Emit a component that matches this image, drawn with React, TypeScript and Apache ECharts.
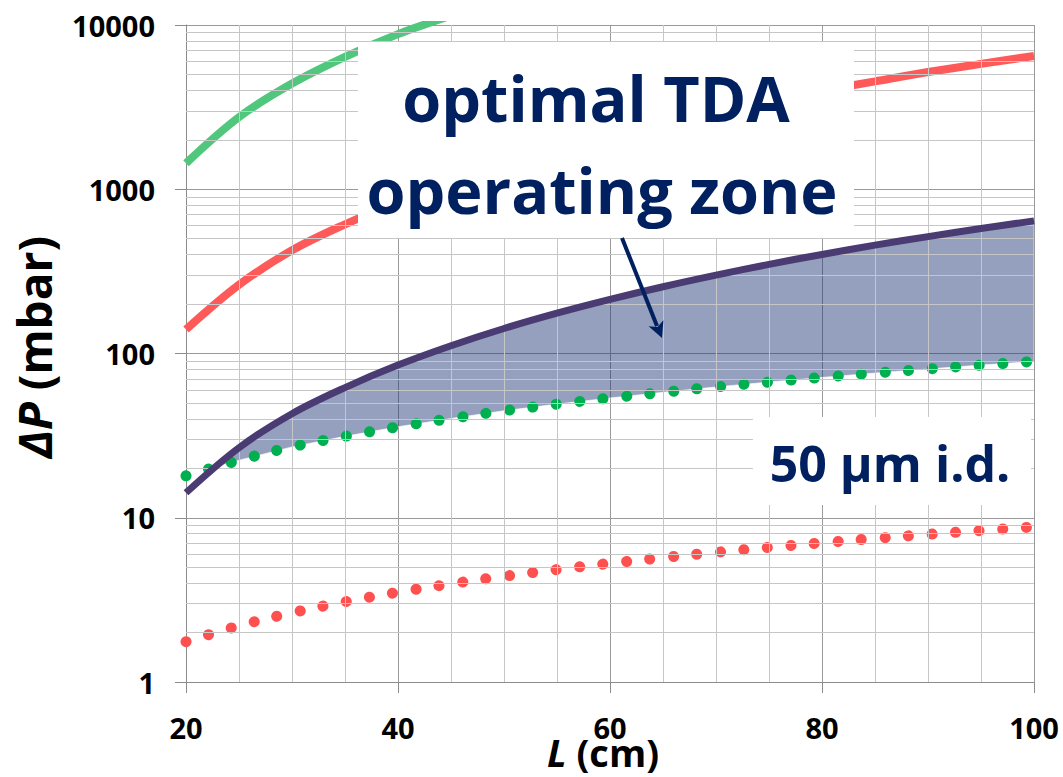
import React, { useEffect, useRef } from "react";
import * as echarts from "echarts";

// ---- data ----
const lengths = [20, 25, 30, 35, 40, 45, 50, 55, 60, 65, 70, 75, 80, 85, 90, 95, 100];
const navyUpper = [14.2, 26.7, 43, 62, 85, 111.5, 142, 176, 213.5, 255, 300, 349, 401, 457, 515, 577, 642];
const redSolid = [140, 262, 425, 612, 840, 1100, 1400, 1740, 2110, 2520, 2970, 3450, 3980, 4540, 5170, 5800, 6476];
const greenSolidL = [20, 25, 30, 35, 40, 45];
const greenSolid = [1440, 2750, 4400, 6400, 8800, 11400];
const greenDotted = [18, 22.4, 27, 31.3, 35.8, 40.2, 44.8, 49.2, 53.6, 58, 62.6, 67, 71.5, 76, 80.5, 85, 89.5];
const redDotted = [1.76, 2.2, 2.64, 3.08, 3.52, 3.96, 4.4, 4.84, 5.28, 5.72, 6.16, 6.6, 7.04, 7.48, 7.92, 8.36, 8.8];

const xTicks = [20, 40, 60, 80, 100];
const xMinor = [25, 30, 35, 45, 50, 55, 65, 70, 75, 85, 90, 95];
const yDecades = [1, 10, 100, 1000];
const yMinorMult = [2, 3, 4, 5, 6, 7, 8, 9];

const FONT = "'Open Sans', 'Noto Sans', sans-serif";
const NAVY_TEXT = "#002060";

export default function App() {
  const ref = useRef<HTMLDivElement>(null);
  useEffect(() => {
    if (!ref.current) return;
    const chart = echarts.init(ref.current, null, { renderer: "svg" });

    const pairs = (xs: number[], ys: number[]) => xs.map((x, i) => [x, ys[i]]);
    const yMinor: number[] = [];
    yDecades.forEach((d) => yMinorMult.forEach((k) => yMinor.push(k * d)));

    const fillRender = (_params: any, api: any) => {
      const lg = Math.log10;
      const pts: number[][] = [];
      let start = 0;
      for (let i = 0; i < lengths.length; i++) {
        if (navyUpper[i] > greenDotted[i]) {
          start = i;
          break;
        }
      }
      if (start > 0) {
        const i0 = start - 1;
        const d0 = lg(navyUpper[i0]) - lg(greenDotted[i0]);
        const d1 = lg(navyUpper[start]) - lg(greenDotted[start]);
        const t = d0 / (d0 - d1);
        const lx = lengths[i0] + t * (lengths[start] - lengths[i0]);
        const ly = lg(navyUpper[i0]) + t * (lg(navyUpper[start]) - lg(navyUpper[i0]));
        pts.push(api.coord([lx, Math.pow(10, ly)]));
      }
      for (let i = start; i < lengths.length; i++) pts.push(api.coord([lengths[i], navyUpper[i]]));
      for (let i = lengths.length - 1; i >= start; i--) pts.push(api.coord([lengths[i], greenDotted[i]]));
      return {
        type: "polygon",
        shape: { points: pts },
        style: { fill: "rgba(31,56,120,0.48)", stroke: "rgba(255,255,255,0.6)", lineWidth: 1 },
      };
    };

    const option: any = {
      animation: false,
      backgroundColor: "#ffffff",
      grid: { left: 186, right: 29, top: 25, bottom: 95 },
      xAxis: {
        type: "value",
        min: xTicks[0],
        max: xTicks[xTicks.length - 1],
        interval: 20,
        axisLine: { show: true, lineStyle: { color: "#8c8c8c", width: 1 } },
        axisTick: { show: true, length: 11, lineStyle: { color: "#8c8c8c" } },
        axisLabel: {
          margin: 31,
          color: "#000",
          fontSize: 29,
          fontWeight: "bold",
          fontFamily: FONT,
          formatter: (v: number) => String(Math.round(v)),
        },
        splitLine: { show: true, lineStyle: { color: "#9a9a9a", width: 1 } },
      },
      yAxis: {
        type: "log",
        logBase: 10,
        min: 1,
        max: 10000,
        axisLine: { show: true, lineStyle: { color: "#8c8c8c", width: 1 } },
        axisTick: { show: true, length: 11, lineStyle: { color: "#8c8c8c" } },
        axisLabel: {
          margin: 31,
          color: "#000",
          fontSize: 29,
          fontWeight: "bold",
          fontFamily: FONT,
          formatter: (v: number) => String(Math.round(v)),
        },
        splitLine: { show: true, lineStyle: { color: "#9a9a9a", width: 1 } },
      },
      series: [
        {
          name: "grid",
          type: "line",
          data: [[20, 1]],
          symbol: "none",
          lineStyle: { width: 0 },
          silent: true,
          z: 1,
          markLine: {
            silent: true,
            symbol: ["none", "none"],
            label: { show: false },
            lineStyle: { color: "#c6c6c6", width: 1, type: "solid" },
            emphasis: { disabled: true },
            data: [
              ...yMinor.map((v) => ({ yAxis: v })),
              ...xMinor.map((v) => ({ xAxis: v })),
            ],
          },
        },
        {
          name: "zone",
          type: "custom",
          data: [[20, 1]],
          renderItem: fillRender,
          clip: true,
          silent: true,
          z: 2,
        },
        {
          name: "green solid",
          type: "line",
          data: pairs(greenSolidL, greenSolid),
          symbol: "none",
          smooth: 0.35,
          lineStyle: { color: "#50c77c", width: 8 },
          z: 3,
        },
        {
          name: "red solid",
          type: "line",
          data: pairs(lengths, redSolid),
          symbol: "none",
          smooth: 0.35,
          lineStyle: { color: "#ff5a5a", width: 8 },
          z: 3,
        },
        {
          name: "green dotted",
          type: "line",
          data: pairs(lengths, greenDotted),
          symbol: "none",
          smooth: 0.35,
          lineStyle: { color: "#00b050", width: 11, type: [0.1, 23.5], cap: "round" },
          z: 4,
        },
        {
          name: "red dotted",
          type: "line",
          data: pairs(lengths, redDotted),
          symbol: "none",
          smooth: 0.35,
          lineStyle: { color: "#ff5050", width: 11, type: [0.1, 23.5], cap: "round" },
          z: 4,
        },
        {
          name: "navy",
          type: "line",
          data: pairs(lengths, navyUpper),
          symbol: "none",
          smooth: 0.35,
          lineStyle: { color: "#4a3c72", width: 7 },
          z: 5,
        },
      ],
      graphic: {
        elements: [
          {
            type: "rect",
            z: 100,
            shape: { x: 358, y: 42, width: 496, height: 196 },
            style: { fill: "#ffffff" },
          },
          {
            type: "text",
            z: 101,
            x: 596,
            y: 97,
            style: {
              text: "optimal TDA",
              fontSize: 63,
              fontWeight: "bold",
              fontFamily: FONT,
              fill: NAVY_TEXT,
              align: "center",
              verticalAlign: "middle",
            },
          },
          {
            type: "text",
            z: 101,
            x: 602,
            y: 189,
            style: {
              text: "operating zone",
              fontSize: 63,
              fontWeight: "bold",
              fontFamily: FONT,
              fill: NAVY_TEXT,
              align: "center",
              verticalAlign: "middle",
            },
          },
          {
            type: "line",
            z: 101,
            shape: { x1: 622, y1: 238, x2: 657, y2: 326 },
            style: { stroke: NAVY_TEXT, lineWidth: 4 },
          },
          {
            type: "polygon",
            z: 101,
            shape: {
              points: [
                [662, 338],
                [648.6, 326.2],
                [657.5, 327],
                [663.4, 320.2],
              ],
            },
            style: { fill: NAVY_TEXT },
          },
          {
            type: "rect",
            z: 100,
            shape: { x: 753, y: 417, width: 278, height: 88 },
            style: { fill: "#ffffff" },
          },
          {
            type: "text",
            z: 101,
            x: 890,
            y: 463,
            style: {
              text: "50 µm i.d.",
              fontSize: 50,
              fontWeight: "bold",
              fontFamily: FONT,
              fill: NAVY_TEXT,
              align: "center",
              verticalAlign: "middle",
            },
          },
          {
            type: "text",
            z: 101,
            x: 603,
            y: 752,
            style: {
              text: "{i|L} (cm)",
              fontSize: 38,
              fontWeight: "bold",
              fontFamily: FONT,
              fill: "#000",
              align: "center",
              verticalAlign: "middle",
              rich: {
                i: { fontSize: 38, fontWeight: "bold", fontStyle: "italic", fontFamily: FONT, fill: "#000" },
              },
            },
          },
          {
            type: "text",
            z: 101,
            x: 34,
            y: 347,
            rotation: Math.PI / 2,
            style: {
              text: "{i|ΔP} (mbar)",
              fontSize: 46,
              fontWeight: "bold",
              fontFamily: FONT,
              fill: "#000",
              align: "center",
              verticalAlign: "middle",
              rich: {
                i: { fontSize: 46, fontWeight: "bold", fontStyle: "italic", fontFamily: FONT, fill: "#000" },
              },
            },
          },
        ],
      },
    };

    chart.setOption(option);
    return () => chart.dispose();
  }, []);

  return (
    <div
      ref={ref}
      style={{ position: "fixed", left: 0, top: 0, width: 1063, height: 777, background: "#fff" }}
    />
  );
}
